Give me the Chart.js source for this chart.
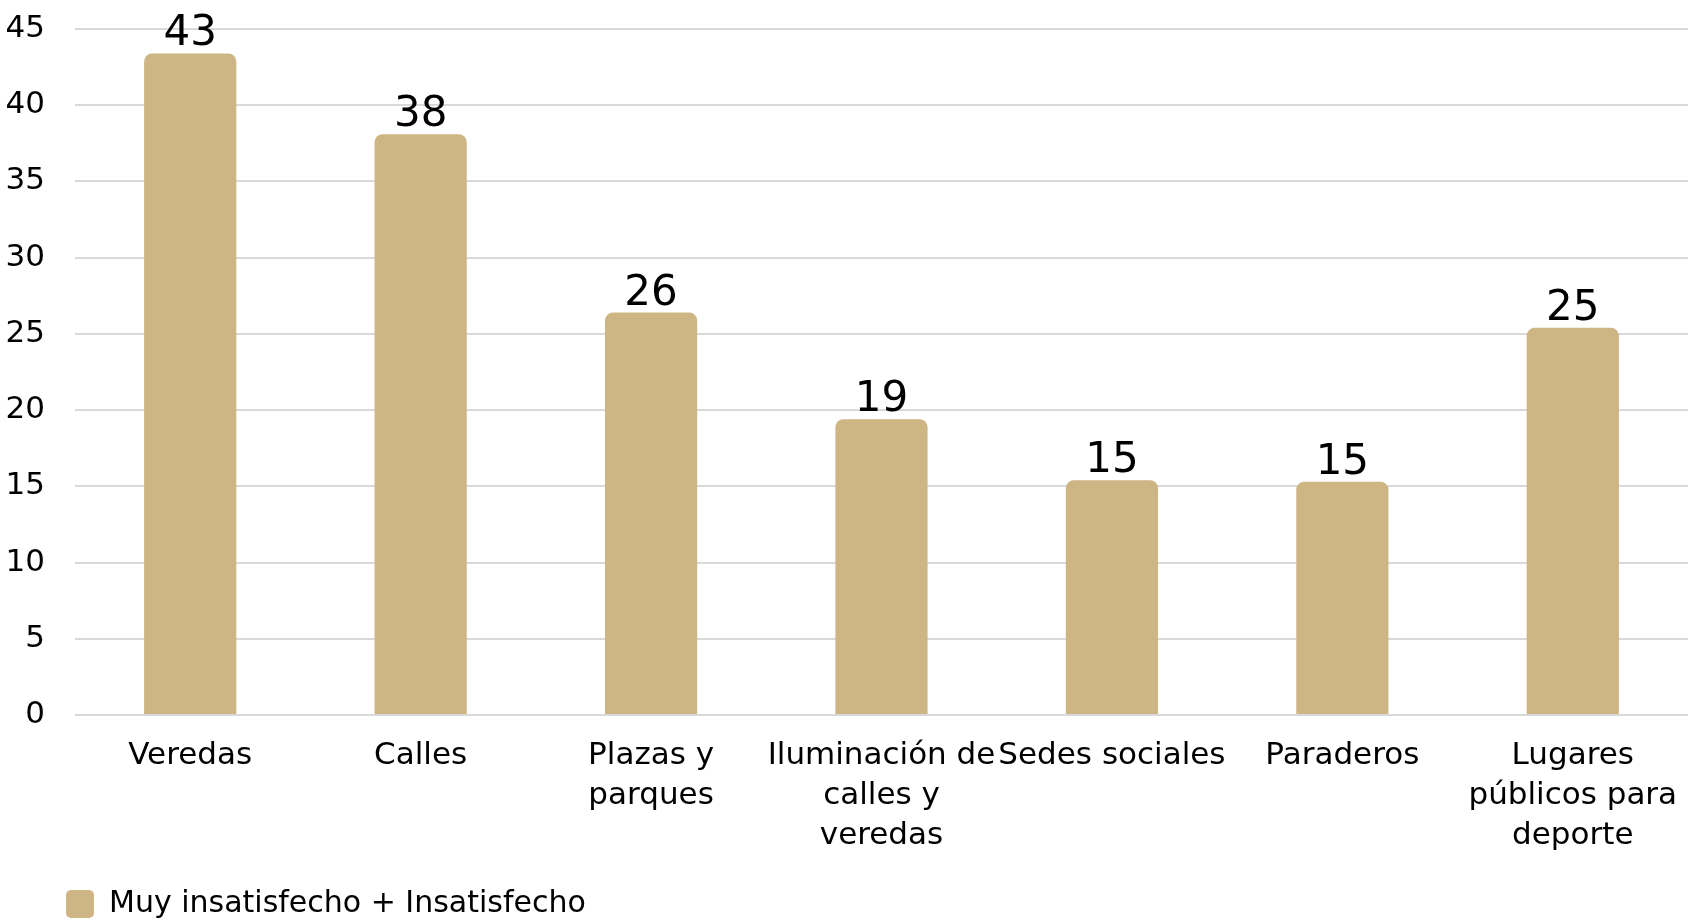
<!DOCTYPE html>
<html>
<head>
<meta charset="utf-8">
<script src="https://cdn.jsdelivr.net/npm/chart.js@4.4.1/dist/chart.umd.min.js"></script>
<style>
  html, body { margin: 0; padding: 0; background: #ffffff; }
  #wrap { width: 1688px; height: 920px; position: relative; }
</style>
</head>
<body>
<div id="wrap"><canvas id="c" width="1688" height="920"></canvas></div>
<script>
const categories = [
  "Veredas",
  "Calles",
  ["Plazas y", "parques"],
  ["Iluminación de", "calles y", "veredas"],
  "Sedes sociales",
  "Paraderos",
  ["Lugares", "públicos para", "deporte"]
];
const seriesName = "Muy insatisfecho + Insatisfecho";
const seriesValues = [43.4, 38.1, 26.4, 19.4, 15.4, 15.3, 25.4];
const yTicks = [0, 5, 10, 15, 20, 25, 30, 35, 40, 45];

const FONT = "'DejaVu Sans', sans-serif";
const BAR = "#CEB584";

const valueLabels = {
  id: 'valueLabels',
  afterDatasetsDraw(chart) {
    const ctx = chart.ctx;
    const meta = chart.getDatasetMeta(0);
    ctx.save();
    ctx.font = "42px " + FONT;
    ctx.fillStyle = "#000000";
    ctx.textAlign = "center";
    ctx.textBaseline = "alphabetic";
    meta.data.forEach((bar, i) => {
      ctx.fillText(String(Math.round(seriesValues[i])), bar.x, bar.y - 8);
    });
    ctx.restore();
  }
};

const legendShift = {
  id: 'legendShift',
  afterLayout(chart) {
    if (chart.legend) {
      chart.legend.left = 64;
      chart.legend.top += 9;
    }
  }
};

new Chart(document.getElementById('c'), {
  type: 'bar',
  data: {
    labels: categories,
    datasets: [{
      label: seriesName,
      data: seriesValues,
      backgroundColor: BAR,
      borderWidth: 0,
      borderRadius: { topLeft: 8, topRight: 8, bottomLeft: 0, bottomRight: 0 },
      borderSkipped: 'bottom',
      barPercentage: 0.4,
      categoryPercentage: 1.0
    }]
  },
  options: {
    responsive: false,
    animation: false,
    devicePixelRatio: 1,
    layout: { padding: { left: 0, top: 29, right: 0, bottom: 0 } },
    plugins: {
      tooltip: { enabled: false },
      legend: {
        position: 'bottom',
        align: 'start',
        labels: {
          boxWidth: 28,
          boxHeight: 28,
          padding: 2,
          color: '#000000',
          font: { family: FONT, size: 30 },
          generateLabels(chart) {
            return [{
              text: seriesName,
              fillStyle: BAR,
              strokeStyle: BAR,
              lineWidth: 0,
              borderRadius: 5,
              datasetIndex: 0,
              hidden: false
            }];
          }
        }
      }
    },
    scales: {
      x: {
        grid: { display: false, drawTicks: false },
        border: { display: false },
        ticks: {
          color: '#000000',
          font: { family: FONT, size: 31, lineHeight: 1.29 },
          padding: 21,
          maxRotation: 0,
          minRotation: 0,
          autoSkip: false
        },
        afterFit(scale) { scale.height = 163; scale.paddingRight = 0; scale.paddingLeft = 0; }
      },
      y: {
        min: 0,
        max: 45,
        afterBuildTicks(scale) { scale.ticks = yTicks.map(v => ({ value: v })); },
        grid: { color: '#D9D9D9', lineWidth: 2, drawTicks: false },
        border: { display: false },
        ticks: {
          color: '#000000',
          font: { family: FONT, size: 31 },
          padding: 30
        },
        afterFit(scale) { scale.width = 75; scale.paddingTop = 0; scale.paddingBottom = 0; }
      }
    }
  },
  plugins: [valueLabels, legendShift]
});
</script>
</body>
</html>
